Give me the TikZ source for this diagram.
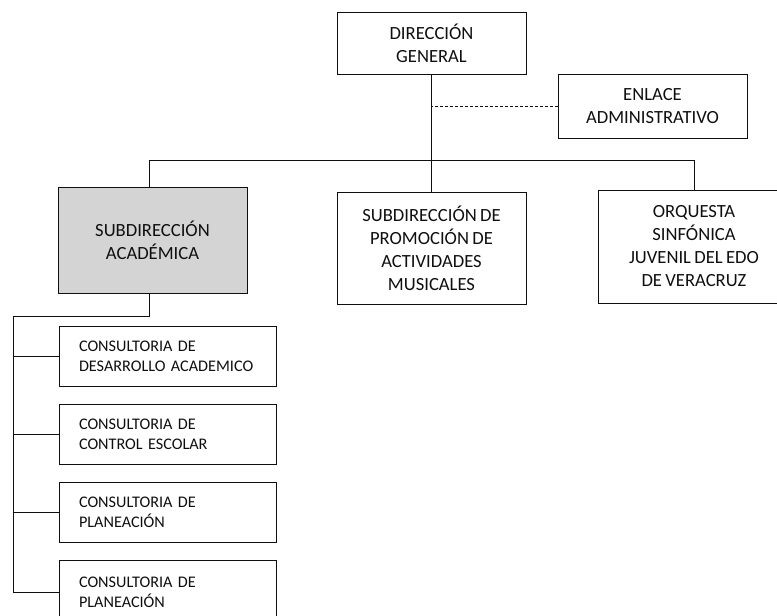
\documentclass[tikz,border=0pt]{standalone}
\usepackage{fontspec}
\setmainfont{Carlito}[WordSpace=0.8]
\definecolor{boxgray}{RGB}{212,212,212}
\definecolor{ink}{RGB}{15,15,15}
\tikzset{
  big/.style={draw=ink, line width=0.8pt, align=center, inner sep=0pt,
    font=\fontsize{18.6}{23}\selectfont, text=ink},
  small/.style={draw=ink, line width=0.8pt, align=left, inner xsep=20pt, inner ysep=0pt,
    text width=177pt, minimum height=60pt, font=\fontsize{16.2}{20}\selectfont, text=ink},
  conn/.style={draw=ink, line width=0.8pt},
  dconn/.style={draw=ink, line width=0.7pt, dash pattern=on 3pt off 2pt},
}
\begin{document}
\begin{tikzpicture}[x=1pt,y=-1pt]
\useasboundingbox (0,0) rectangle (777,616);
\begin{scope}
\clip (0,0) rectangle (777,616);
\node[big, minimum width=189pt, minimum height=62pt] (dg) at (431.5,43) {DIRECCIÓN\\GENERAL};
\node[big, minimum width=189pt, minimum height=64pt] (en) at (652.5,106) {ENLACE\\ADMINISTRATIVO};
\node[big, fill=boxgray, minimum width=189pt, minimum height=106pt] (sa) at (152.5,240) {SUBDIRECCIÓN\\ACADÉMICA};
\node[big, minimum width=189pt, minimum height=112pt] (sp) at (431.5,248) {SUBDIRECCIÓN DE\\PROMOCIÓN DE\\ACTIVIDADES\\MUSICALES};
\node[big, minimum width=192pt, minimum height=113pt] (oq) at (694,246.5) {ORQUESTA\\SINFÓNICA\\JUVENIL DEL EDO\\DE VERACRUZ};

\node[small] (c1) at (167.5,356) {CONSULTORIA DE\\DESARROLLO ACADEMICO};
\node[small] (c2) at (167.5,434) {CONSULTORIA DE\\CONTROL ESCOLAR};
\node[small] (c3) at (167.5,512) {CONSULTORIA DE\\PLANEACIÓN};
\node[small, minimum height=64pt] (c4) at (167.5,592) {CONSULTORIA DE\\PLANEACIÓN};

\coordinate (busL) at (149,160);
\coordinate (busR) at (694,160);
\coordinate (saj) at (149,316);
\coordinate (spine) at (13,316);

\draw[conn] (dg.south) -- (dg.south |- busL);
\draw[conn] (busL) -- (busR);
\draw[conn] (busL) -- (busL |- sa.north);
\draw[conn] (sp.north |- busL) -- (sp.north);
\draw[conn] (busR) -- (busR |- oq.north);
\draw[dconn] (en.west) -- (en.west -| dg.south);

\draw[conn] (saj |- sa.south) -- (saj) -- (spine) -- (spine |- c4.west);
\draw[conn] (c1.west) -- (c1.west -| spine);
\draw[conn] (c2.west) -- (c2.west -| spine);
\draw[conn] (c3.west) -- (c3.west -| spine);
\draw[conn] (c4.west) -- (c4.west -| spine);
\end{scope}
\end{tikzpicture}
\end{document}
